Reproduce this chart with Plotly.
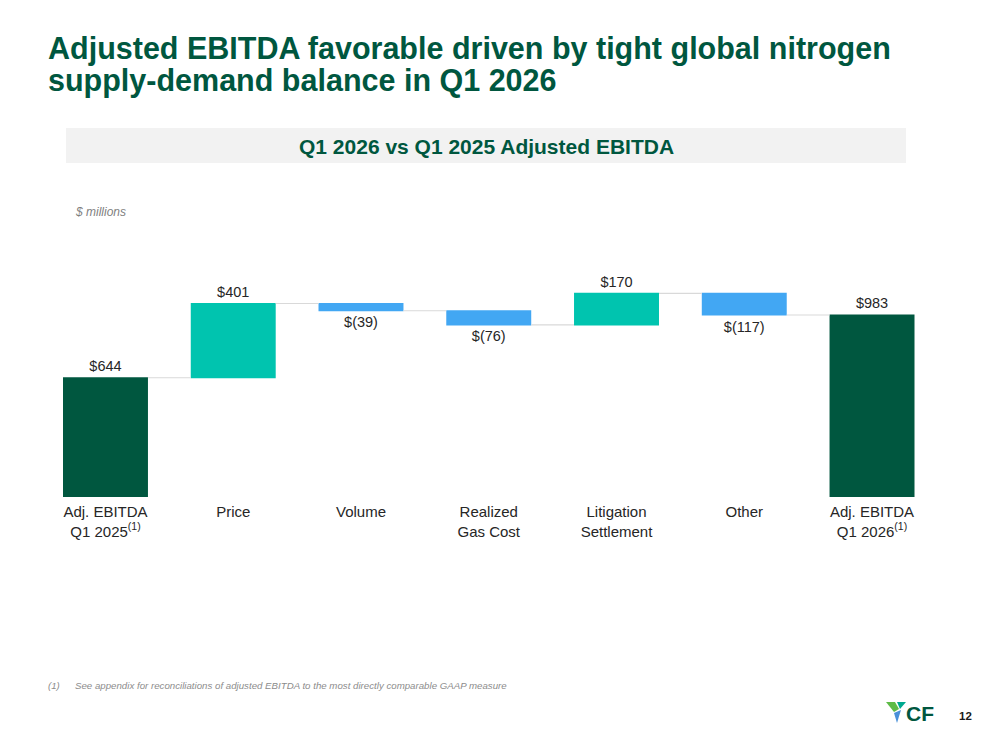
import plotly.graph_objects as go

# ---- data ----
categories = ["Adj. EBITDA<br>Q1 2025<sup>(1)</sup>", "Price", "Volume", "Realized<br>Gas Cost",
              "Litigation<br>Settlement", "Other", "Adj. EBITDA<br>Q1 2026<sup>(1)</sup>"]
measures = ["absolute", "relative", "relative", "relative", "relative", "relative", "total"]
changes = [644, 401, -39, -76, 170, -117, None]

# page is drawn with the browser's 8px body margin, so the figure is a bit smaller
PAD = 8
W, H = 999 - 2 * PAD, 750 - 2 * PAD
DARK = "#00573F"
TEAL = "#00C4AF"
BLUE = "#42A7F3"
FONT = "Liberation Sans, Arial, sans-serif"


def money(v):
    if v < 0:
        return "$(%d)" % abs(v)
    return "$%d" % v


total = sum(v for v in changes if v is not None)
labels = [money(v) if v is not None else money(total) for v in changes]


# page pixel -> paper fraction
def px_x(x):
    return (x - PAD) / W


def px_y(y):
    return 1 - (y - PAD) / H


fig = go.Figure()
fig.add_trace(go.Waterfall(
    x=categories,
    y=[v if v is not None else 0 for v in changes],
    measure=measures,
    text=labels,
    textposition="outside",
    textfont=dict(family=FONT, size=14.5, color="#262626"),
    increasing=dict(marker=dict(color=TEAL)),
    decreasing=dict(marker=dict(color=BLUE)),
    totals=dict(marker=dict(color=DARK)),
    connector=dict(line=dict(color="#d9d9d9", width=1.2)),
    cliponaxis=False,
    hoverinfo="skip",
))

# header banner and logo
shapes = [
    dict(type="rect", xref="paper", yref="paper",
         x0=px_x(66), x1=px_x(906), y0=px_y(163), y1=px_y(128),
         fillcolor="#f2f2f2", line=dict(width=0), layer="below"),
]
logo_parts = [
    ([(886, 702), (895, 702), (899, 709), (894, 712)], "#5DBB46"),
    ([(897, 702), (906, 702), (900, 709)], "#00A98F"),
    ([(894, 713), (901, 710), (897, 723)], "#4A90D9"),
]
for pts, col in logo_parts:
    path = "M " + " L ".join("%f,%f" % (px_x(a), px_y(b)) for a, b in pts) + " Z"
    shapes.append(dict(type="path", xref="paper", yref="paper", path=path,
                       fillcolor=col, line=dict(width=0)))


def note(text, x, y, size, color, xanchor="left", bold=False, italic=False):
    if bold:
        text = "<b>" + text + "</b>"
    if italic:
        text = "<i>" + text + "</i>"
    return dict(text=text, x=px_x(x), y=px_y(y), xref="paper", yref="paper",
                xanchor=xanchor, yanchor="middle", showarrow=False,
                font=dict(family=FONT, size=size, color=color))


annotations = [
    note("Adjusted EBITDA favorable driven by tight global nitrogen", 46, 48, 30.5, DARK, bold=True),
    note("supply-demand balance in Q1 2026", 46, 80, 30.5, DARK, bold=True),
    note("Q1 2026 vs Q1 2025 Adjusted EBITDA", 486, 146, 21, DARK, xanchor="center", bold=True),
    note("$ millions", 73, 212, 12, "#7f7f7f", italic=True),
    note("(1)", 46, 685, 9.6, "#8c8c8c", italic=True),
    note("See appendix for reconciliations of adjusted EBITDA to the most directly comparable GAAP measure",
         73, 685, 9.7, "#8c8c8c", italic=True),
    note("CF", 904, 713, 21, DARK, bold=True),
    note("12", 965, 716, 11.5, "#1a1a1a", xanchor="center", bold=True),
]

fig.update_layout(
    width=W, height=H,
    margin=dict(l=0, r=0, t=0, b=0),
    paper_bgcolor="white", plot_bgcolor="white",
    showlegend=False,
    waterfallgap=0.335,
    shapes=shapes,
    annotations=annotations,
)
fig.update_xaxes(domain=[px_x(41.6), px_x(935.9)], range=[-0.5, 6.5], showgrid=False,
                 showline=False, zeroline=False, ticks="", ticklabelstandoff=4,
                 tickfont=dict(family=FONT, size=15, color="#262626"))
fig.update_yaxes(domain=[px_y(497), px_y(250)], range=[0, 247 * 983 / 182], visible=False,
                 showgrid=False, zeroline=False)

fig.write_html("out.html", config={"displayModeBar": False})
